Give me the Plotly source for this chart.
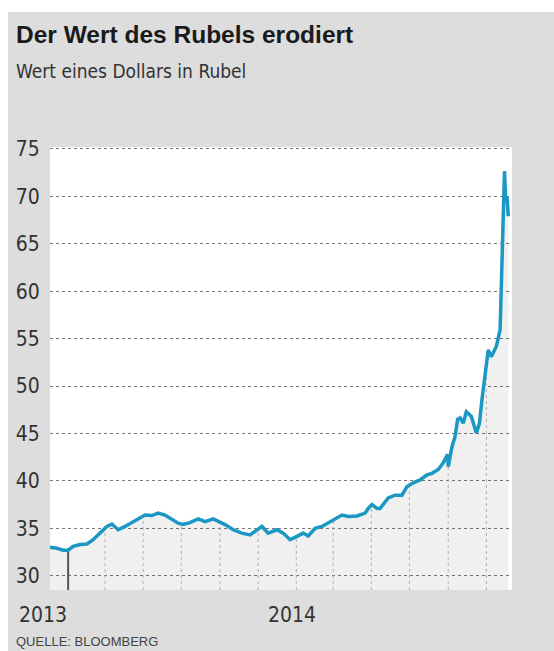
import numpy as np
import pandas as pd
import plotly.graph_objects as go

# ---- data ----
dates = [
    "2012-12-03", "2012-12-14", "2012-12-24", "2013-01-01", "2013-01-09", "2013-01-20",
    "2013-01-31", "2013-02-10", "2013-02-21", "2013-03-04", "2013-03-12", "2013-03-22",
    "2013-04-02", "2013-04-13", "2013-04-23", "2013-05-04", "2013-05-15", "2013-05-25",
    "2013-06-05", "2013-06-16", "2013-06-26", "2013-07-04", "2013-07-15", "2013-07-28",
    "2013-08-08", "2013-08-21", "2013-09-01", "2013-09-09", "2013-09-22", "2013-10-06",
    "2013-10-19", "2013-10-30", "2013-11-07", "2013-11-17", "2013-12-01", "2013-12-11",
    "2013-12-22", "2014-01-02", "2014-01-12", "2014-01-20", "2014-01-31", "2014-02-11",
    "2014-02-21", "2014-03-04", "2014-03-15", "2014-03-25", "2014-04-08", "2014-04-21",
    "2014-04-26", "2014-05-02", "2014-05-10", "2014-05-15", "2014-05-28", "2014-06-08",
    "2014-06-19", "2014-06-27", "2014-07-07", "2014-07-18", "2014-07-29", "2014-08-06",
    "2014-08-16", "2014-08-24", "2014-08-31", "2014-09-01", "2014-09-07", "2014-09-12",
    "2014-09-16", "2014-09-20", "2014-09-25", "2014-09-30", "2014-10-08", "2014-10-16",
    "2014-10-21", "2014-10-25", "2014-10-30", "2014-11-04", "2014-11-09", "2014-11-17",
    "2014-11-23", "2014-11-25", "2014-11-27", "2014-11-29", "2014-11-30", "2014-12-02",
    "2014-12-04", "2014-12-06",
]
rub_per_usd = [
    33.0, 32.9, 32.7, 32.7, 33.1, 33.3,
    33.35, 33.8, 34.5, 35.2, 35.45, 34.85,
    35.2, 35.6, 35.9, 36.4, 36.35, 36.6,
    36.4, 35.9, 35.55, 35.4, 35.6, 36.0,
    35.7, 36.0, 35.7, 35.4, 34.85, 34.5,
    34.3, 34.85, 35.2, 34.5, 34.85, 34.5,
    33.8, 34.15, 34.5, 34.2, 35.0, 35.2,
    35.55, 36.0, 36.4, 36.25, 36.3, 36.6,
    37.1, 37.5, 37.1, 37.1, 38.2, 38.5,
    38.5, 39.4, 39.8, 40.1, 40.65, 40.8,
    41.2, 41.9, 42.8, 41.5, 43.6, 44.7,
    46.5, 46.65, 46.1, 47.3, 46.8, 45.05,
    46.1, 48.6, 51.5, 53.8, 53.1, 54.2,
    55.95, 60.2, 64.4, 69.7, 72.65, 69.5,
    70.0, 67.9,
]
y_ticks = [30, 35, 40, 45, 50, 55, 60, 65, 70, 75]
year_labels = ["2013", "2014"]
year_dates = ["2013-01-01", "2014-01-01"]
grid_dates = pd.date_range("2013-01-01", "2014-11-01", freq="2MS")

title = "Der Wert des Rubels erodiert"
subtitle = "Wert eines Dollars in Rubel"
source = "QUELLE: BLOOMBERG"

# ---- styles ----
FONT = "DejaVu Sans Condensed, Liberation Sans, Arial, sans-serif"
TITLE_FONT = "Liberation Sans, Arial, sans-serif"
BG = "#dddddd"
LINE = "#1b97c4"
Y_MIN, Y_MAX = 28.5, 75.2
X_MIN, X_MAX = "2012-12-03", "2014-12-12"

d = pd.to_datetime(dates)
v = np.array(rub_per_usd)

# vertical grid segments from the bottom of the plot up to the curve
t_data = d.astype("int64").to_numpy()
gx, gy = [], []
for gd in grid_dates[1:]:
    val = float(np.interp(gd.value, t_data, v))
    gx += [gd, gd, None]
    gy += [Y_MIN, val, None]
first = grid_dates[0]
first_val = float(np.interp(first.value, t_data, v))

fig = go.Figure()
fig.add_trace(go.Scatter(x=d, y=v, mode="lines", line=dict(width=0, color=LINE),
                         fill="tozeroy", fillcolor="rgba(0,0,0,0.06)", hoverinfo="skip"))
fig.add_trace(go.Scatter(x=gx, y=gy, mode="lines",
                         line=dict(color="#b0b0b0", width=1, dash="3px,3px"), hoverinfo="skip"))
fig.add_trace(go.Scatter(x=[first, first], y=[Y_MIN, first_val], mode="lines",
                         line=dict(color="#555555", width=2), hoverinfo="skip"))
fig.add_trace(go.Scatter(x=d, y=v, mode="lines", line=dict(color=LINE, width=3.5)))

annotations = [
    dict(text=f"<b>{title}</b>", xref="paper", yref="paper", x=0, y=1, xanchor="left",
         yanchor="middle", xshift=-36, yshift=113, showarrow=False,
         font=dict(family=TITLE_FONT, size=24.5, color="#1a1a1a")),
    dict(text=subtitle, xref="paper", yref="paper", x=0, y=1, xanchor="left",
         yanchor="middle", xshift=-36, yshift=76, showarrow=False,
         font=dict(family=FONT, size=19, color="#333333")),
    dict(text=source, xref="paper", yref="paper", x=0, y=0, xanchor="left",
         yanchor="top", xshift=-36, yshift=-42, showarrow=False,
         font=dict(family=TITLE_FONT, size=13, color="#444444")),
    dict(text=year_labels[0], xref="x", yref="paper", x=year_dates[0], y=0,
         xanchor="right", yanchor="middle", xshift=1, yshift=-25, showarrow=False,
         font=dict(family=FONT, size=21, color="#333333")),
    dict(text=year_labels[1], xref="x", yref="paper", x=year_dates[1], y=0,
         xanchor="center", yanchor="middle", xshift=-4, yshift=-25, showarrow=False,
         font=dict(family=FONT, size=21, color="#333333")),
]

# gray panel with a thin white border on the left and top
L, R, T, B = 50, 42, 147, 61
W, H = 554, 651
pw, ph = W - L - R, H - T - B
shapes = [
    dict(type="rect", xref="paper", yref="paper", layer="below",
         x0=-L / pw, x1=-(L - 8) / pw, y0=-B / ph, y1=(ph + T) / ph,
         fillcolor="white", line=dict(width=0)),
    dict(type="rect", xref="paper", yref="paper", layer="below",
         x0=-L / pw, x1=(pw + R) / pw, y0=(ph + T - 12) / ph, y1=(ph + T) / ph,
         fillcolor="white", line=dict(width=0)),
]

fig.update_layout(
    width=W, height=H,
    margin=dict(l=L, r=R, t=T, b=B),
    paper_bgcolor=BG, plot_bgcolor="white",
    showlegend=False,
    annotations=annotations,
    shapes=shapes,
    xaxis=dict(type="date", range=[X_MIN, X_MAX], showgrid=False, zeroline=False,
               showticklabels=False, showline=False, ticks=""),
    yaxis=dict(range=[Y_MIN, Y_MAX], tickvals=y_ticks, showgrid=True,
               gridcolor="#777777", griddash="dot", gridwidth=1, zeroline=False,
               showline=False, ticks="outside", ticklen=5, tickcolor="rgba(0,0,0,0)",
               tickfont=dict(family=FONT, size=21, color="#333333")),
)

fig.write_html("out.html")
